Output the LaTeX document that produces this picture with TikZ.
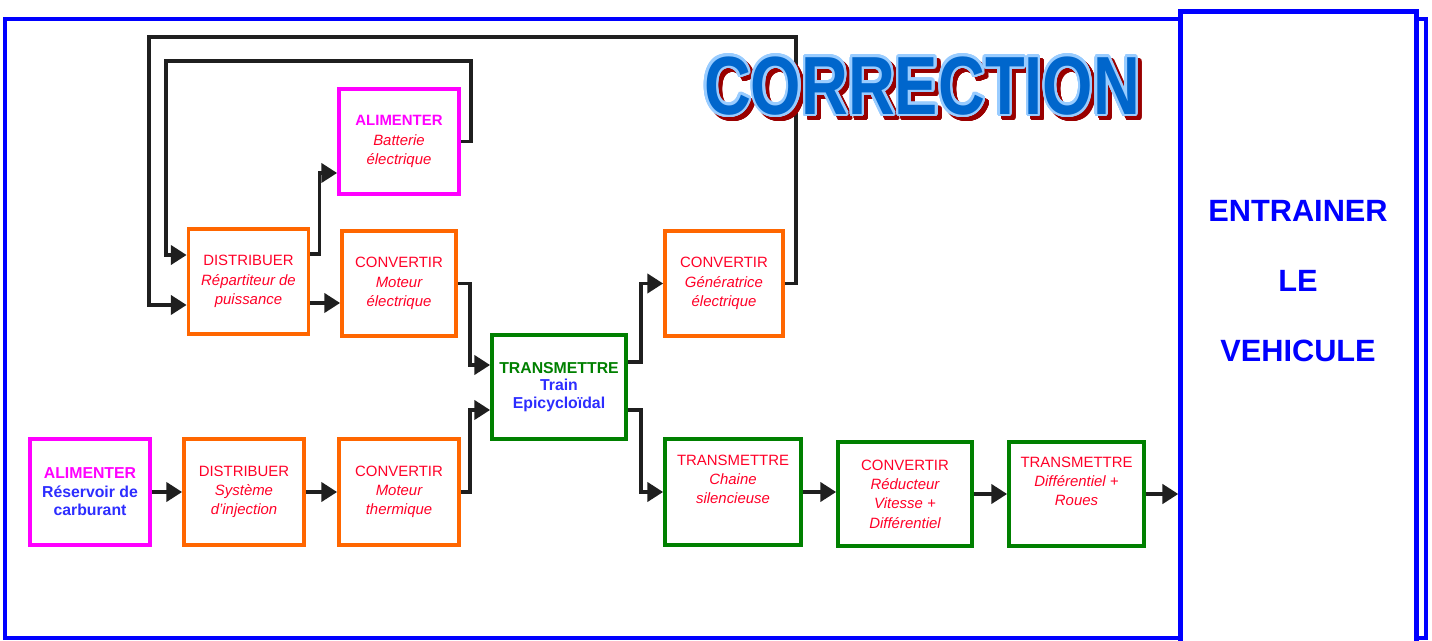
\documentclass[tikz,border=0pt]{standalone}
\usepackage{fontspec}
\setmainfont{Liberation Sans}
\usepackage{contour}
\usepackage{graphicx}
\usetikzlibrary{arrows.meta}
\definecolor{fucsia}{RGB}{255,0,255}
\definecolor{orangebloc}{RGB}{255,102,0}
\definecolor{vertbloc}{RGB}{0,128,0}
\definecolor{bleucadre}{RGB}{0,0,255}
\definecolor{rougetxt}{RGB}{255,0,40}
\definecolor{bleutxt}{RGB}{45,45,255}
\definecolor{bleutitre}{RGB}{0,102,204}
\definecolor{bleuclair}{RGB}{153,204,255}
\definecolor{ombre}{RGB}{153,0,0}
\newcommand{\verbe}[2]{\textcolor{#1}{#2}}
\newcommand{\comp}[1]{\textcolor{rougetxt}{\itshape #1}}
\newcommand{\compb}[1]{\textcolor{bleutxt}{\bfseries #1}}
\contournumber{32}

\begin{document}
\begin{tikzpicture}[x=0.02cm, y=-0.02cm,
    bloc/.style={draw, line width=2.2pt, fill=white, minimum width=2.4cm, minimum height=2.1cm,
                 align=center, inner sep=1pt, font=\fontsize{8.5}{11}\selectfont},
    fleche/.style={draw=black!88, line width=1.9pt, -{Triangle[length=9pt,width=11pt]}},
    titre/.style={font=\fontsize{47}{47}\selectfont\bfseries}]
                      \useasboundingbox (0,0) rectangle (1432,641);
                      \draw[bleucadre, line width=2.3pt] (5,19) rectangle (1426,638);
                      % blocs
                      \node[bloc, draw=fucsia] (bat) at (399,141.5)
                          {\verbe{fucsia}{\bfseries ALIMENTER}\\ \comp{Batterie}\\ \comp{électrique}};
                      \node[bloc, draw=orangebloc] (rep) at (248.5,281.5)
                          {\verbe{rougetxt}{DISTRIBUER}\\ \comp{Répartiteur de}\\ \comp{puissance}};
                      \node[bloc, draw=orangebloc, minimum width=2.28cm] (mel) at (399,283.5)
                          {\verbe{rougetxt}{CONVERTIR}\\ \comp{Moteur}\\ \comp{électrique}};
                      \node[bloc, draw=vertbloc, minimum width=2.68cm, minimum height=2.08cm,
                            font=\fontsize{9}{10}\selectfont] (train) at (559,387)
                          {\verbe{vertbloc}{\bfseries TRANSMETTRE}\\ \compb{Train}\\ \compb{Epicycloïdal}};
                      \node[bloc, draw=orangebloc, minimum width=2.36cm] (gen) at (724,283.5)
                          {\verbe{rougetxt}{CONVERTIR}\\ \comp{Génératrice}\\ \comp{électrique}};
                      \node[bloc, draw=fucsia, minimum height=2.12cm, font=\fontsize{9}{10.5}\selectfont] (res) at (90,492)
                          {\verbe{fucsia}{\bfseries ALIMENTER}\\ \compb{Réservoir de}\\ \compb{carburant}};
                      \node[bloc, draw=orangebloc, minimum height=2.12cm] (sys) at (244,492)
                          {\verbe{rougetxt}{DISTRIBUER}\\ \comp{Système}\\ \comp{d'injection}};
                      \node[bloc, draw=orangebloc, minimum height=2.12cm] (mth) at (399,492)
                          {\verbe{rougetxt}{CONVERTIR}\\ \comp{Moteur}\\ \comp{thermique}};
                      \node[bloc, draw=vertbloc, minimum width=2.72cm, minimum height=2.12cm] (chaine) at (733,492)
                          {\verbe{rougetxt}{TRANSMETTRE}\\ \comp{Chaine}\\ \comp{silencieuse}\\ \strut};
                      \node[bloc, draw=vertbloc, minimum width=2.68cm, minimum height=2.08cm] (red) at (905,494)
                          {\verbe{rougetxt}{CONVERTIR}\\ \comp{Réducteur}\\ \comp{Vitesse +}\\ \comp{Différentiel}};
                      \node[bloc, draw=vertbloc, minimum width=2.7cm, minimum height=2.08cm] (dif) at (1076.5,494)
                          {\verbe{rougetxt}{TRANSMETTRE}\\ \comp{Différentiel +}\\ \comp{Roues}\\ \strut};
                      \node[draw=bleucadre, line width=2.6pt, fill=white, minimum width=4.72cm,
                            minimum height=13.2cm, anchor=north] (veh) at (1298.5,9.5) {};
                      \node[text=bleucadre, align=center, font=\fontsize{17.5}{40}\selectfont\bfseries] (vehtxt) at (1298,281)
                          {ENTRAINER\\LE\\VEHICULE};
                      % liaisons
                      \coordinate (r2) at ([yshift=-0.43cm]rep.east);
                      \coordinate (b1) at (166,61);
                      \coordinate (g1) at (149,37);
                      \draw[fleche] (res) -- (sys);
                      \draw[fleche] (sys) -- (mth);
                      \draw[fleche] (mth.east) -- ++(9,0) |- ([yshift=-0.46cm]train.west);
                      \draw[fleche] (mel.east) -- ++(12,0) |- ([yshift=0.44cm]train.west);
                      \draw[fleche] ([yshift=0.5cm]train.east) -- ++(13,0) |- (gen.west);
                      \draw[fleche] ([yshift=-0.46cm]train.east) -- ++(13,0) |- (chaine.west);
                      \draw[fleche] (chaine.east) -- (chaine.east -| red.west);
                      \draw[fleche] (red.east) -- (red.east -| dif.west);
                      \draw[fleche] (dif.east) -- (dif.east -| veh.west);
                      \draw[fleche] ([yshift=0.55cm]rep.east) -- ++(9,0) |- ([yshift=-0.63cm]bat.west);
                      \draw[fleche] (r2) -- (r2 -| mel.west);
                      \draw[fleche] (bat.east) -- ++(10,0) |- (b1) |- ([yshift=0.53cm]rep.west);
                      \draw[fleche] (gen.east) -- ++(11,0) |- (g1) |- ([yshift=-0.47cm]rep.west);
                      % titre
                      \contourlength{1.6pt}
                      \node[titre, text=ombre] (ombretitre) at (926,91)
                          {\scalebox{0.785}[1]{\contour{ombre}{CORRECTION}}};
                      \node[titre, text=bleutitre] (titre) at (922,87)
                          {\scalebox{0.785}[1]{\contour{bleuclair}{CORRECTION}}};
                  \end{tikzpicture}
\end{document}
